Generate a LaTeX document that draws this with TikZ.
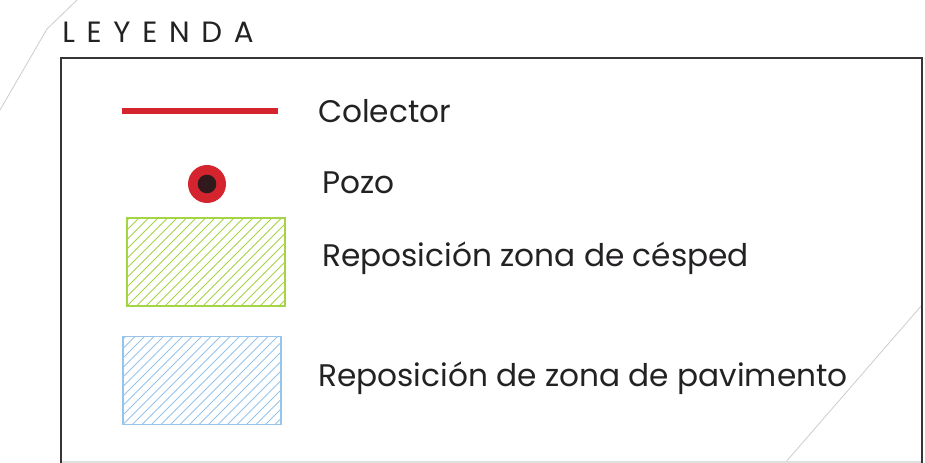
\documentclass[tikz,border=0pt]{standalone}
\usepackage{fontspec}
\setmainfont{Poppins}
\newfontfamily\titlefont[LetterSpace=40]{Poppins}
\usetikzlibrary{positioning, calc}
\definecolor{colred}{RGB}{212,36,46}
\definecolor{holedark}{RGB}{48,26,30}
\definecolor{grassgreen}{RGB}{165,212,70}
\definecolor{pavblue}{RGB}{152,196,234}
\definecolor{framegray}{RGB}{55,52,54}
\definecolor{textgray}{RGB}{35,33,35}

\begin{document}
\begin{tikzpicture}[
        x=0.75pt, y=-0.75pt,
        font=\fontsize{23.4}{26}\selectfont\color{textgray},
        label/.style={anchor=west, inner sep=0pt},
        hatchbox/.style={rectangle, draw=#1, line width=1.2pt, minimum width=118.5pt, minimum height=66pt, inner sep=0pt,
            path picture={
                \foreach \k in {-12,...,18}
                    \draw[#1, line width=0.7pt] ($(path picture bounding box.south west)+(\k*9.5,0)$) -- ++(110,-110);
            }},
        deco/.style={gray!40, line width=0.6pt}
    ]
    \useasboundingbox (0,0) rectangle (925,463);

    % background strokes
    \draw[deco] (77,0) -- (47,29) -- (0,110);
    \draw[deco] (922,305) -- (785,463);
    \draw[gray!25, line width=1pt] (62,462) -- (922,462);

    % frame
    \draw[framegray, line width=1.5pt] (61,470) -- (61,58) -- (922,58) -- (922,470);
    \node (title) [label, font=\titlefont\fontsize{22}{24}\selectfont\color{textgray}] at (62,32.5) {LEYENDA};

    % symbols
    \draw[colred, line width=4.5pt] (122,111) -- (278,111);
    \node (pozo) [circle, fill=colred, minimum size=28.5pt, inner sep=0pt] at (207,184) {};
    \node (hole) [circle, fill=holedark, minimum size=14pt, inner sep=0pt] at (pozo) {};
    \node (cesped) [hatchbox=grassgreen] at (206,262) {};
    \node (pavim) [hatchbox=pavblue] at (202,380.5) {};

    % texts
    \node (tcol) [label] at (318,111) {Colector};
    \node (tpozo) [label] at (322,183) {Pozo};
    \node (tces) [label] at (322,258) {Reposición zona de césped};
    \node (tpav) [label] at (318,378) {Reposición de zona de pavimento};
\end{tikzpicture}
\end{document}
